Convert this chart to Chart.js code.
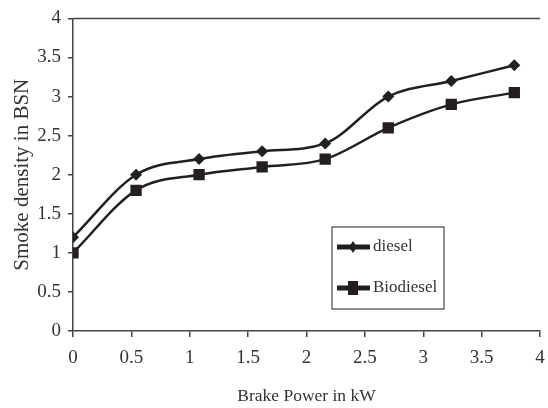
<!DOCTYPE html>
<html>
<head>
<meta charset="utf-8">
<script src="https://cdn.jsdelivr.net/npm/chart.js@4/dist/chart.umd.min.js"></script>
<style>
  html, body { margin: 0; padding: 0; background: #fff; }
  #wrap { width: 548px; height: 408px; }
</style>
</head>
<body>
<div id="wrap"><canvas id="smoke-chart" width="548" height="408"></canvas></div>
<script>
var brakePower = [0, 0.54, 1.08, 1.62, 2.16, 2.7, 3.24, 3.78];
var dieselBsn = [1.2, 2.0, 2.2, 2.3, 2.4, 3.0, 3.2, 3.4];
var biodieselBsn = [1.0, 1.8, 2.0, 2.1, 2.2, 2.6, 2.9, 3.05];
var seriesNames = ['diesel', 'Biodiesel'];

var ink = '#231f20';
var serif = '"Liberation Serif", "DejaVu Serif", serif';

function toPoints(ys) {
    return brakePower.map(function (x, i) { return { x: x, y: ys[i] }; });
}

function plainTick(v) {
    return String(Math.round(v * 10) / 10);
}

// top frame line + boxed legend inside the plot
var framePlugin = {
    id: 'framePlugin',
    afterDraw: function (chart) {
        var ctx = chart.ctx;
        var a = chart.chartArea;
        ctx.save();
        ctx.strokeStyle = '#444';
        ctx.lineWidth = 1.5;
        ctx.beginPath();
        ctx.moveTo(a.left, a.top);
        ctx.lineTo(a.right, a.top);
        ctx.stroke();

        var bx = 332, by = 227, bw = 112, bh = 82;
        ctx.lineWidth = 1.2;
        ctx.strokeStyle = '#444';
        ctx.strokeRect(bx, by, bw, bh);
        ctx.font = '17px ' + serif;
        ctx.textBaseline = 'middle';
        chart.data.datasets.forEach(function (ds, i) {
            var cy = by + 20 + i * 41;
            ctx.strokeStyle = ink;
            ctx.lineWidth = 5;
            ctx.beginPath();
            ctx.moveTo(bx + 5, cy);
            ctx.lineTo(bx + 38, cy);
            ctx.stroke();
            ctx.fillStyle = ink;
            var mx = bx + 21;
            if (ds.pointStyle === 'rectRot') {
                ctx.beginPath();
                ctx.moveTo(mx, cy - 6);
                ctx.lineTo(mx + 4, cy);
                ctx.lineTo(mx, cy + 6);
                ctx.lineTo(mx - 4, cy);
                ctx.closePath();
                ctx.fill();
            } else {
                ctx.fillRect(mx - 5, cy - 7, 10, 14);
            }
            ctx.fillStyle = '#333';
            ctx.fillText(ds.label, bx + 41, cy);
        });
        ctx.restore();
    }
};

new Chart(document.getElementById('smoke-chart'), {
    type: 'line',
    data: {
        datasets: [
            {
                label: seriesNames[0],
                data: toPoints(dieselBsn),
                borderColor: ink,
                backgroundColor: ink,
                borderWidth: 2.5,
                pointStyle: 'rectRot',
                pointRadius: 6,
                pointBorderWidth: 0,
                tension: 0.35,
                cubicInterpolationMode: 'monotone'
            },
            {
                label: seriesNames[1],
                data: toPoints(biodieselBsn),
                borderColor: ink,
                backgroundColor: ink,
                borderWidth: 2.5,
                pointStyle: 'rect',
                pointRadius: 8,
                pointBorderWidth: 0,
                tension: 0.35,
                cubicInterpolationMode: 'monotone'
            }
        ]
    },
    options: {
        responsive: false,
        animation: false,
        layout: { padding: { top: 18, left: 0, right: 0, bottom: 0 } },
        plugins: { legend: { display: false }, tooltip: { enabled: false } },
        scales: {
            x: {
                type: 'linear',
                min: 0,
                max: 4,
                ticks: { stepSize: 0.5, color: '#333', font: { family: serif, size: 19 }, padding: 10,
                    maxRotation: 0, callback: plainTick },
                grid: { drawOnChartArea: false, tickLength: 6, color: '#444', lineWidth: 1.5 },
                border: { color: '#444', width: 1.5 },
                title: { display: true, text: 'Brake Power in kW', color: '#333',
                    font: { family: serif, size: 17.5 }, padding: { top: 4, bottom: 1 } },
                afterFit: function (scale) { scale.height = 77; scale.paddingRight = 0; }
            },
            y: {
                min: 0,
                max: 4,
                ticks: { stepSize: 0.5, color: '#333', font: { family: serif, size: 19 }, padding: 7,
                    callback: plainTick },
                grid: { drawOnChartArea: false, tickLength: 5, color: '#444', lineWidth: 1.5 },
                border: { color: '#444', width: 1.5 },
                title: { display: true, text: 'Smoke density in BSN', color: '#333',
                    font: { family: serif, size: 21 }, padding: { top: 10, bottom: 4 } },
                afterFit: function (scale) { scale.width = 73; }
            }
        }
    },
    plugins: [framePlugin]
});
</script>
</body>
</html>
